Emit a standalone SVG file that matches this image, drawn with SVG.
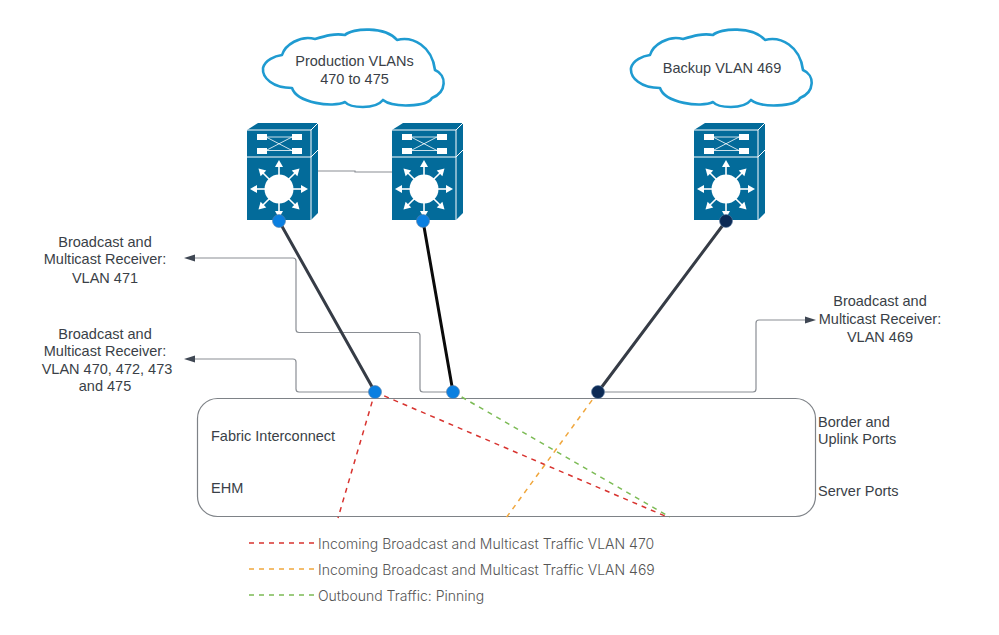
<svg xmlns="http://www.w3.org/2000/svg" width="999" height="635" viewBox="0 0 999 635">
<style>
text{font-family:"Liberation Sans",Arial,sans-serif;font-size:14.5px;fill:#3a3f47;text-anchor:middle}
.l{text-anchor:start}
.leg{text-anchor:start;font-size:14px;fill:#555;font-family:"Inter","Liberation Sans",sans-serif;font-weight:300}
.cloud{fill:#fff;stroke:#1f9bd1;stroke-width:2.6;stroke-linejoin:round}
.conn{fill:none;stroke:#8a8e94;stroke-width:1.2}
.link{fill:none;stroke-width:3;stroke-linecap:round}
.dash{fill:none;stroke-width:1.5;stroke-dasharray:5 5}
.red{stroke:#d8332f}.org{stroke:#f0a63c}.grn{stroke:#7cbb55}
.head{fill:#3f4753}
.sw{fill:#036b9a}
.wa{stroke:#fff;stroke-width:1.6;fill:none}
</style>
<defs>
<path id="cl" class="cloud" d="M282,55 C285,45 300,35 315,39 C325,36 335,33 345,35 C352,28 385,26 397,40 C413,36 432,46 435,70 C447,75 447,92 432,98 C427,107 393,108 383,100 C375,110 350,108 345,102 C333,108 297,103 292,88 C273,88 262,78 263,68 C265,60 275,56 282,55 Z"/>
<g id="arr"><path class="wa" d="M0,-13 V-23"/><path d="M-4,-22 L0,-29 L4,-22 Z" fill="#fff"/></g>
<g id="switch">
<path class="sw" d="M247,130 L258,123 H318 V213 L311,220 H247 Z"/>
<path d="M247,130 H311 L318,123 M311,130 V220 M247,157 H311 L318,150" stroke="#fff" stroke-width="1" fill="none"/>
<path d="M262,137 H296 M262,150.500 H296 M266,137 L292,150.500 M266,150.500 L292,137" stroke="#fff" stroke-width="0.8" fill="none"/>
<rect x="257" y="134" width="10" height="6" fill="#fff"/><rect x="292" y="134" width="10" height="6" fill="#fff"/>
<rect x="257" y="148" width="10" height="6" fill="#fff"/><rect x="292" y="148" width="10" height="6" fill="#fff"/>
<g transform="translate(279,189)">
<circle r="14.500" fill="#fff"/>
<use href="#arr"/><use href="#arr" transform="rotate(45)"/><use href="#arr" transform="rotate(90)"/><use href="#arr" transform="rotate(135)"/><use href="#arr" transform="rotate(180)"/><use href="#arr" transform="rotate(225)"/><use href="#arr" transform="rotate(270)"/><use href="#arr" transform="rotate(315)"/>
</g>
</g>
</defs>
<rect width="999" height="635" fill="#fff"/>

<g id="fabric"><rect x="197.500" y="398.500" width="618" height="118" rx="20" fill="none" stroke="#7e8287" stroke-width="1.2"/>
<text class="l" x="211" y="441">Fabric Interconnect</text><text class="l" x="211" y="493">EHM</text>
<text class="l" x="818" y="427">Border and</text><text class="l" x="818" y="444">Uplink Ports</text><text class="l" x="818" y="496">Server Ports</text></g>

<g id="cloud-production"><use href="#cl"/>
<text x="354.500" y="66">Production VLANs</text><text x="354.500" y="84">470 to 475</text></g>
<g id="cloud-backup"><use href="#cl" transform="translate(368,0)"/>
<text x="722" y="73">Backup VLAN 469</text></g>

<g id="switch-1"><use href="#switch"/></g>
<g id="switch-2"><use href="#switch" transform="translate(145,0)"/></g>
<g id="switch-3"><use href="#switch" transform="translate(447,0)"/></g>

<g id="connectors">
<path class="conn" d="M318,171 H355 V172 H392"/>
<path class="conn" d="M195,258 H293 Q296,258 296,261 V329.500 Q296,332.500 299,332.500 H417 Q420,332.500 420,335.500 V389 Q420,392 423,392 H453"/>
<path class="head" d="M184,258 L195,254.500 V261.500 Z"/>
<path class="conn" d="M195,359 H293 Q296,359 296,362 V389 Q296,392 299,392 H375"/>
<path class="head" d="M184,359 L195,355.500 V362.500 Z"/>
<path class="conn" d="M598,392 H753 Q756,392 756,389 V323 Q756,320 759,320 H805"/>
<path class="head" d="M816,320 L805,316.500 V323.500 Z"/>
<path class="link" stroke="#363c46" d="M279,221 L375,392"/>
<path class="link" stroke="#0a0a0a" d="M423,221 L453,392"/>
<path class="link" stroke="#363c46" d="M726,221 L598,392"/>
<path class="dash red" d="M375,392 L338,518"/>
<path class="dash red" d="M375,392 L665,516"/>
<path class="dash grn" d="M453,392 L670,517"/>
<path class="dash org" d="M598,392 L506,518"/>
<g stroke="#5f7fa5" stroke-width="0.6">
<circle cx="279" cy="221" r="6.500" fill="#0a7fe0"/><circle cx="423" cy="221" r="6.500" fill="#0a7fe0"/><circle cx="726" cy="221" r="6.500" fill="#0c2a55"/>
<circle cx="375" cy="392" r="6.500" fill="#0a7fe0"/><circle cx="453" cy="392" r="6.500" fill="#0a7fe0"/><circle cx="598" cy="392" r="6.500" fill="#0c2a55"/>
</g>
</g>

<g id="labels">
<text x="105" y="247">Broadcast and</text><text x="105" y="264">Multicast Receiver:</text><text x="105" y="283">VLAN 471</text>
<text x="105" y="339">Broadcast and</text><text x="105" y="356">Multicast Receiver:</text><text x="107" y="374">VLAN 470, 472, 473</text><text x="105" y="391">and 475</text>
<text x="880" y="306">Broadcast and</text><text x="880" y="324">Multicast Receiver:</text><text x="880" y="342">VLAN 469</text>
</g>

<g id="legend">
<path class="dash red" d="M249,543 H316"/><path class="dash org" d="M249,569 H316"/><path class="dash grn" d="M249,595 H316"/>
<text class="leg" x="318" y="549">Incoming Broadcast and Multicast Traffic VLAN 470</text>
<text class="leg" x="318" y="575">Incoming Broadcast and Multicast Traffic VLAN 469</text>
<text class="leg" x="318" y="601">Outbound Traffic: Pinning</text>
</g>
</svg>
